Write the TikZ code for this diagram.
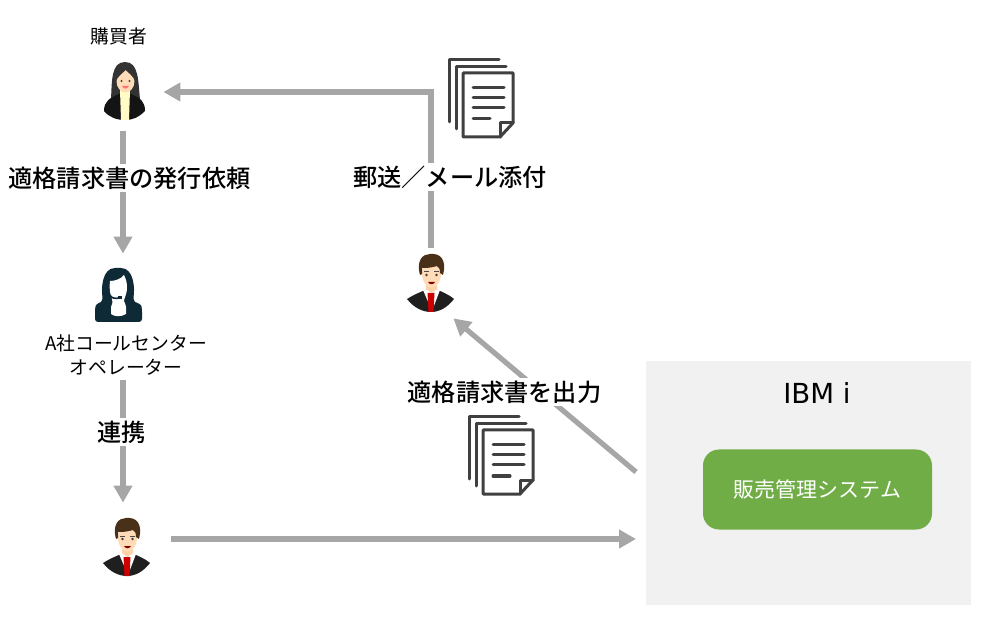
\documentclass[tikz,border=0pt]{standalone}
\usepackage{fontspec}
\setmainfont{Noto Sans CJK JP}
\newfontfamily\latinfont{DejaVu Sans}
\newfontfamily\jpheavy{Noto Sans CJK JP Medium}
\usetikzlibrary{arrows.meta,calc}
\definecolor{flowgray}{HTML}{A6A6A6}
\definecolor{panelgray}{HTML}{F2F1F1}
\definecolor{salesgreen}{HTML}{70AD47}
\definecolor{docgray}{HTML}{404040}
\definecolor{headsetink}{HTML}{0E2A36}
\tikzset{
	flow/.style={line width=2.6pt, color=flowgray, -{Triangle[length=8.5pt,width=9pt]}},
	personbox/.style={inner sep=0pt, minimum width=#1},
	flowlabel/.style={fill=white, inner sep=1.5pt, font=\jpheavy\fontsize{12.1}{14}\selectfont},
	smalllabel/.style={inner sep=2pt, align=center, font=\fontsize{9.4}{12}\selectfont},
	docline/.style={line width=1.5pt, color=docgray, line cap=round, line join=round}
}
% paper stack, origin on the front sheet
\def\docicon(#1){
	\begin{scope}[shift={(#1)}]
		\draw[docline] (-32, 25) -- (-32, -37) -- (18, -37);
		\draw[docline] (-25, 32) -- (-25, -30) -- (25, -30);
		\draw[docline] (-18, -24) -- (32, -24) -- (32, 26) -- (19, 40) -- (-18, 40) -- cycle;
		\draw[docline] (19, 40) -- (19, 26) -- (32, 26);
		\draw[docline] (-8, -9) -- (23, -9);
		\draw[docline] (-8, 1) -- (23, 1);
		\draw[docline] (-8, 11) -- (23, 11);
		\draw[docline] (-8, 22) -- (9, 22);
	\end{scope}
}
\def\manicon(#1){
	\begin{scope}[shift={(#1)}]
		\fill[color=black!88] (-24, 16) .. controls (-16, 11) and (-10, 9) .. (-6, 7) -- (7, 7) .. controls (11, 9) and (17, 11) .. (23, 16) .. controls (16, 25) and (8, 29) .. (0, 29) .. controls (-8, 29) and (-17, 25) .. (-24, 16) -- cycle;
		\fill[color=white] (-8, 7) -- (9, 7) -- (1, 28) -- cycle;
		\fill[color=red!80!black] (-3.5, 10) -- (3.5, 10) -- (2.5, 29) -- (-2.5, 29) -- cycle;
		\fill[color=orange!35!white] (-5, 0) -- (6, 0) -- (6, 6) -- (0.5, 10) -- (-5, 6) -- cycle;
		\fill[color=orange!28!white] (0.5, -9) ellipse (9.5 and 13.5);
		\fill[color=brown!38!black] (-11, -8) .. controls (-15, -23) and (-8, -29) .. (-1, -29) .. controls (9, -30) and (16, -24) .. (12, -8) -- (9, -10) .. controls (9, -14) and (8, -16) .. (6, -17) .. controls (0, -15) and (-6, -15) .. (-9, -15) -- (-9, -9) -- cycle;
		\fill[color=black!75] (-4.5, -8) circle (1.3);
		\fill[color=black!75] (5.5, -8) circle (1.3);
		\draw[line width=0.5pt, color=black!70] (-7, -11) -- (-2, -11);
		\draw[line width=0.5pt, color=black!70] (3, -11) -- (8, -11);
		\fill[color=red!50!black] (-3, -1) .. controls (-1, 2) and (2, 2) .. (4, -1) -- cycle;
	\end{scope}
}
\def\buyericon(#1){
	\begin{scope}[shift={(#1)}]
		\fill[color=black!80] (-13, 8) .. controls (-12, -10) and (-13, -29) .. (1, -29) .. controls (15, -29) and (14, -10) .. (16, 8) -- cycle;
		\fill[color=black!92] (-20, 20) .. controls (-20, 10) and (-14, 7) .. (-5, 3) -- (7, 3) .. controls (16, 7) and (21, 10) .. (21, 20) .. controls (14, 27) and (8, 29) .. (1, 29) .. controls (-8, 29) and (-15, 26) .. (-20, 20) -- cycle;
		\fill[color=yellow!22!white] (-4, -1) -- (6, -1) -- (5, 29) -- (-3, 29) -- cycle;
		\fill[color=orange!28!white] (1.5, -10) ellipse (9 and 11.5);
		\fill[color=black!80] (-8, -10) .. controls (-7, -19) and (-2, -24) .. (1.5, -24) .. controls (5, -24) and (10, -19) .. (11, -10) .. controls (9, -15) and (5, -18) .. (1.5, -21) .. controls (-1, -18) and (-6, -15) .. (-8, -10) -- cycle;
		\fill[color=black!75] (-2.5, -10) circle (1.2);
		\fill[color=black!75] (5.5, -10) circle (1.2);
		\fill[color=red!55!white] (-2, -5) .. controls (0, -1.5) and (3, -1.5) .. (5, -5) -- cycle;
	\end{scope}
}
\def\operatoricon(#1){
	\begin{scope}[shift={(#1)}]
		\fill[color=headsetink, rounded corners=1.5pt] (-23, 27) -- (-23, 14) .. controls (-22, 9) and (-17, 7) .. (-15, 5) .. controls (-17, -6) and (-16, -27) .. (0, -27) .. controls (16, -27) and (17, -6) .. (15, 5) .. controls (17, 7) and (23, 9) .. (24, 14) -- (24, 27) -- cycle;
		\fill[color=white] (-8, -14) .. controls (-3, -14) and (3, -16) .. (6, -20) .. controls (8, -16) and (9, -12) .. (9, -8) .. controls (9, 0) and (6, 3) .. (6, 6) .. controls (7, 9) and (8, 10) .. (8, 12) -- (8, 19) .. controls (3, 22) and (-3, 22) .. (-7, 19) -- (-7, 12) .. controls (-6, 9) and (-5, 8) .. (-6, 4) .. controls (-8, 0) and (-9, -8) .. (-8, -14) -- cycle;
		\draw[line width=0.8pt, color=headsetink] (-8, 0) .. controls (-7, 3) and (-3, 4) .. (1, 3);
		\fill[color=headsetink] (0, 1.5) rectangle (4, 4.5);
	\end{scope}
}

\begin{document}
\begin{tikzpicture}[x=0.5pt, y=-0.5pt]
		%%%%% START %%%%%
		\useasboundingbox (0, 0) rectangle (1000, 624);
		
		\node[fill=panelgray, inner sep=0pt, minimum width=162.5pt, minimum height=121.5pt] (ibmbox) at (808, 483) {};
		\node[inner sep=0pt, font=\latinfont\fontsize{13.8}{15}\selectfont] (ibmtitle) at (817, 393) {IBM i};
		\node[fill=salesgreen, rounded corners=8pt, inner sep=0pt, minimum width=114.5pt, minimum height=40pt, text=white, font=\fontsize{10.5}{12}\selectfont] (salesbox) at (817.5, 489.5) {\raisebox{-1.5pt}{販売管理システム}};
		
		\node[smalllabel] (buyerlabel) at (119, 36) {購買者};
		\node[personbox=40pt, minimum height=39pt] (buyer) at (123, 92) {};
		\node[personbox=30pt, minimum height=41pt] (operator) at (123, 295) {};
		\node[smalllabel] (operlabel) at (126, 355) {A社コールセンター\\オペレーター};
		\node[personbox=48pt, minimum height=36pt] (clerkA) at (123, 539) {};
		\node[personbox=22pt, minimum height=35pt] (clerkB) at (431, 283) {};
		
		\buyericon(124, 91)
		\operatoricon(118, 295)
		\manicon(127, 547)
		\manicon(431, 283)
		\docicon(481, 97)
		\docicon(501, 454)
		
		\coordinate (ibmout) at (636, 472);
		\coordinate (ibmin) at (636, 539);
		
		\draw[flow] (buyer.south) -- (operator.north);
		\draw[flow] (operlabel.south -| operator) -- (clerkA.north);
		\draw[flow] (clerkA.east) -- (ibmin);
		\draw[flow] (ibmout) -- (clerkB.south east);
		\draw[flow, line join=miter] (clerkB.north) -- (clerkB.north |- buyer.east) -- (buyer.east);
		
		\node[flowlabel] (requestlabel) at (129.5, 178) {適格請求書の発行依頼};
		\node[flowlabel] (linklabel) at (121.5, 432) {連携};
		\node[flowlabel] (maillabel) at (450, 177) {郵送／メール添付};
		\node[flowlabel] (outputlabel) at (504.5, 392) {適格請求書を出力};
		
		%%%%% END %%%%%
	\end{tikzpicture}
\end{document}
